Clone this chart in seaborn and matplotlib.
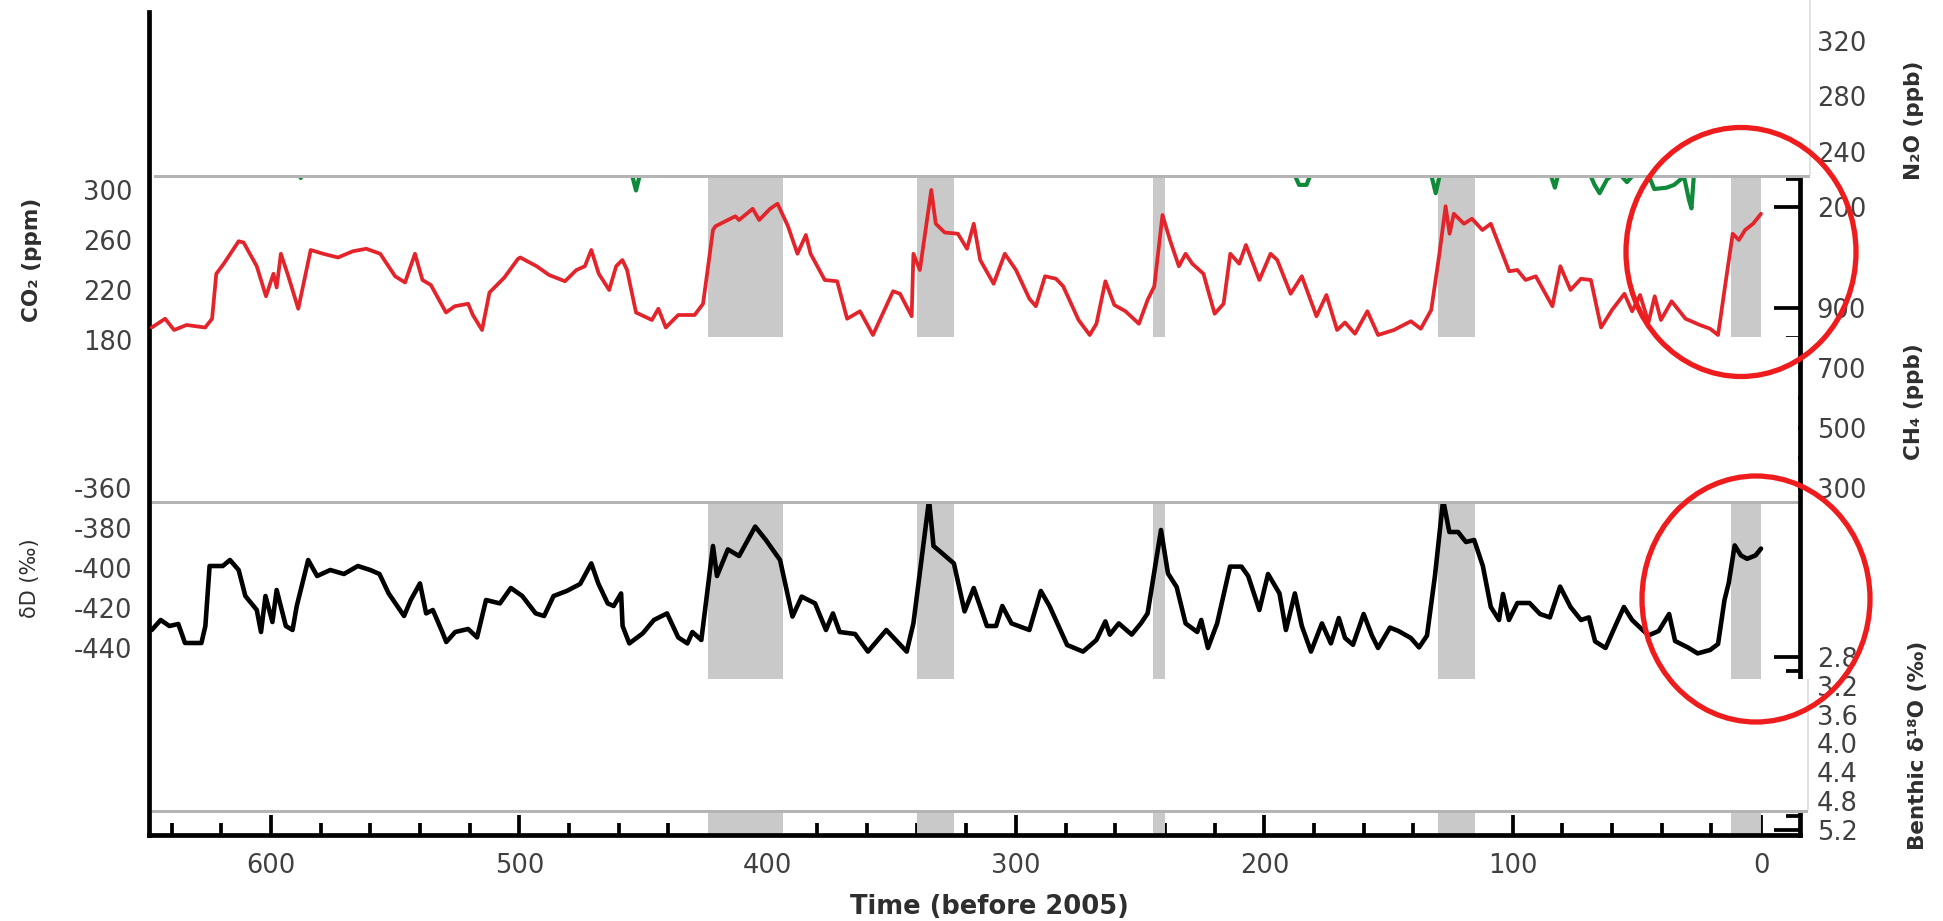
import matplotlib
matplotlib.use("Agg")
import matplotlib.pyplot as plt
import seaborn as sns
from matplotlib.patches import Rectangle, Ellipse

# ===== Data (ages in kyr before 2005) =====
co2_age = [648, 642.6, 639, 634, 626.5, 623.7, 622, 619, 613, 611, 605.7, 602, 599, 597.7, 596, 593,
           589, 584, 579, 573, 567, 561.6, 556, 550, 546, 542, 539, 535.6, 529.5, 526, 520.6, 518.7,
           515, 512, 506, 500.5, 499.6, 493, 488, 481.6, 477, 473.6, 471, 468, 463.8, 461, 458.5,
           456.6, 453, 446.6, 444, 441, 436, 429.4, 426, 422, 421, 413, 411.5, 406, 403.4, 399, 396,
           391.8, 388, 384.6, 382.7, 377, 372, 368, 362.8, 357.6, 349.5, 346.7, 342, 341.3, 338.7,
           334.1, 332.3, 328.7, 323.4, 319.7, 317, 314.4, 309, 304.5, 300, 294.6, 292, 288.3, 283.9,
           281, 274.8, 270.3, 267.6, 264, 260.4, 255.9, 250.5, 247, 244.3, 241, 238, 234.4, 231.7,
           229, 224.5, 222.7, 220, 216.4, 213.7, 210.1, 207.4, 202, 197.5, 194.8, 189.4, 184.9, 179,
           175, 170.7, 167.5, 163.5, 158.5, 154.2, 147.8, 141, 137, 132.8, 129.5, 127, 125.4, 123.7,
           119.6, 116.4, 112.2, 108.8, 104.7, 101.4, 98.1, 94.8, 90.7, 84, 80.8, 76.7, 72.5, 68.5,
           64.4, 60, 55, 51.9, 48.7, 45.3, 42.8, 40.3, 36, 30.4, 24.6, 20.5, 17.3, 14.7, 11.4, 8.9,
           6.4, 3.2, 0]
co2_ppm = [190, 197, 188, 192, 190, 197, 233, 241, 259, 258, 239, 215, 233, 222, 249, 231,
           205, 252, 249, 246, 251, 253, 249, 231, 226, 249, 228, 224, 202, 207, 209, 200,
           188, 218, 230, 245, 246, 239, 232, 227, 236, 239, 252, 233, 220, 239, 244,
           236, 202, 196, 205, 190, 200, 200, 209, 268, 271, 279, 276, 285, 276, 285, 289,
           271, 249, 264, 249, 228, 227, 197, 203, 184, 219, 217, 199, 249, 236,
           300, 273, 266, 265, 253, 273, 244, 225, 249, 236, 213, 207, 231, 229,
           223, 196, 184, 193, 227, 208, 203, 193, 212, 223, 280, 260, 239, 249,
           241, 233, 220, 201, 209, 249, 241, 256, 228, 249, 244, 217, 231, 199,
           216, 188, 194, 185, 203, 184, 188, 195, 189, 204, 249, 287, 265, 281,
           273, 277, 268, 273, 252, 235, 236, 228, 231, 207, 239, 220, 229, 228,
           190, 204, 217, 203, 216, 194, 215, 196, 211, 197, 192, 189, 184, 220, 265, 260,
           268, 273, 281]

dd_age = [648, 644.4, 640.9, 637.3, 634.6, 628, 626.4, 624.7, 619.4, 616.5, 613, 610.3, 605.7, 604,
          602.2, 599.4, 597.7, 594, 591.3, 589.6, 585, 581.4, 576.1, 570.6, 565, 560, 556.3, 552.6,
          546.4, 543.7, 540, 537.5, 534.8, 531, 529.4, 525.8, 520.6, 517, 513.4, 507.8, 503.4, 498.8,
          493.4, 490, 486.2, 480.9, 475.5, 471, 468.2, 464.4, 462, 459, 458.4, 455.7, 450.3, 445.8,
          440.5, 436, 432.3, 430.3, 426.7, 422, 420.4, 416, 411.5, 405, 400.7, 395, 390, 386.3, 380.9,
          376.5, 373.7, 371, 364.8, 359.6, 352.2, 344, 341.3, 335, 333.2, 330.6, 325, 320.7, 317,
          311.7, 308, 305.5, 301.8, 294.6, 290, 286.5, 279.4, 273, 267.6, 264, 262.2, 258.6, 253.4,
          249.7, 247, 241.6, 238.8, 235.3, 231.7, 227, 225.4, 222.7, 219, 213.8, 209.2, 206.5, 202,
          198.5, 193.9, 191.3, 187.7, 184.9, 181.2, 176.8, 173.2, 170, 167.5, 164.3, 160, 156.7,
          154.2, 149.4, 146, 141, 137.7, 134.5, 131.3, 128, 125.5, 122, 118.8, 115.5, 112, 108.8,
          105.5, 103.9, 101.5, 98.1, 93.2, 89, 85, 80.9, 76.7, 72.5, 69.3, 66.8, 62.6, 58.5, 55.2,
          51.9, 48.7, 45.3, 41.2, 37, 34.6, 29.5, 25.5, 20.5, 17.3, 14.7, 13, 10.6, 8.1, 5.6, 2.2, 0]
dd_permil = [-431, -426, -429, -428, -437.5, -437.5, -429, -399, -399, -396, -401, -414, -421, -432,
             -414, -427, -411, -429, -431, -419, -396, -404, -401, -403, -399, -401, -403, -412.7,
             -424, -416, -407.7, -422.7, -421, -432, -437, -432, -430.5, -434.7, -416, -417.7, -410, -414,
             -422.7, -424, -414, -411.5, -408, -397.7, -407.7, -417.7, -419, -412.7, -429, -437.7, -432.7, -426,
             -422.7, -434.7, -437.7, -432, -436, -389, -404, -390.7, -394, -379.3, -386, -396, -424.3, -414.3, -417.7,
             -431, -422.7, -432, -433, -441.8, -431, -441.8, -427.7, -366, -389, -391.7, -397.7, -421.7, -410,
             -429, -429, -419, -427.7, -431, -411.5, -419, -438.5, -441.8, -436, -426.7, -433.3, -427.7, -433.3,
             -427.7, -422.7, -381, -402.7, -409.5, -427.7, -432, -426, -440, -427.7, -399.3, -399.3, -404, -421,
             -403, -412.7, -431, -412.7, -429, -441.8, -427.7, -437.7, -425, -435, -438.4, -423, -433.7,
             -440, -429.8, -431.5, -435, -439.7, -433.8, -404, -366, -382, -382, -387, -386, -399, -419.5,
             -426, -413, -426, -417.5, -417.5, -423, -424.7, -409.3, -419.5, -426, -424.7, -436.7, -440, -428.5, -419.5,
             -426, -429.8, -433.7, -431.5, -423, -436.5, -439.7, -442.7, -441, -438, -416, -407.5, -388.7, -393.7, -395.4, -393.7, -390.3]

# only the dips of this trace show below the top cover
n2o_age = [640, 592, 588, 584, 460, 455, 453, 450, 300, 190, 186, 183, 180, 140, 133, 131, 129, 120,
           90, 85, 83, 81, 70, 67, 65, 62, 58, 54, 50, 45, 43, 38, 35, 31, 29, 28, 27, 20, 0]
n2o_ppb = [238, 236, 221, 236, 238, 226, 212, 234, 240, 232, 216, 216, 230, 236, 225, 210, 226, 240,
           236, 225, 214, 228, 228, 216, 210, 220, 226, 218, 226, 222, 213, 214, 216, 222, 205, 199, 224, 238, 240]

interglacials = [(424, 394), (340, 325), (245, 240), (130, 115), (12, 0)]

time_ticks = [600, 500, 400, 300, 200, 100, 0]
time_minor = list(range(640, -1, -20))
co2_ticks = [300, 260, 220, 180]
co2_minor = [280, 240, 200]
dd_ticks = [-360, -380, -400, -420, -440]
dd_minor = [-370, -390, -410, -430, -450]
n2o_ticks = [320, 280, 240, 200]
n2o_minor = [300, 260, 220]
ch4_ticks = [900, 700, 500, 300]
ch4_minor = [800, 600, 400]
benthic_ticks = [2.8, 3.2, 3.6, 4.0, 4.4, 4.8, 5.2]
benthic_minor = [3.0, 3.4, 3.8, 4.2, 4.6, 5.0]

sns.set_style("white")
plt.rcParams["font.family"] = ["DejaVu Sans"]
plt.rcParams["axes.unicode_minus"] = False

W, H = 1943, 921
fig = plt.figure(figsize=(W / 100, H / 100), dpi=100)
fig.patch.set_facecolor("white")


def fig_box(x0, y0, x1, y1):
    # pixel box (top-left origin) -> [left, bottom, width, height] in figure fraction
    return [x0 / W, 1 - y1 / H, (x1 - x0) / W, (y1 - y0) / H]


FRAME = fig_box(149, 12, 1800, 835)
LABEL_COLOR = "#404040"
TICK_FS = 18.5

# ===== Frame with interglacial shading =====
ax = fig.add_axes(FRAME)
ax.set_facecolor("white")
for start, end in interglacials:
    ax.axvspan(start, end, color="#c9c9c9", lw=0)
ax.spines["top"].set_visible(False)
for side in ["left", "bottom", "right"]:
    ax.spines[side].set_linewidth(3.4)
    ax.spines[side].set_color("black")
ax.tick_params(axis="y", left=False, labelleft=False, right=False)
ax.set_ylim(0, 1)


def layer(side):
    a = fig.add_axes(FRAME, sharex=ax)
    a.patch.set_visible(False)
    for s in a.spines.values():
        s.set_visible(False)
    if side == "right":
        a.yaxis.tick_right()
    return a


def style_layer(a, ylim, ticks, minor):
    a.set_xlabel("")
    a.set_ylabel("")
    a.tick_params(axis="x", which="both", bottom=False, top=False, labelbottom=False)
    a.set_yticks(ticks)
    a.set_yticks(minor, minor=True)
    a.tick_params(axis="y", which="major", direction="in", length=19, width=2.7, color="black",
                  labelsize=TICK_FS, labelcolor=LABEL_COLOR, pad=12)
    a.tick_params(axis="y", which="minor", direction="in", length=10, width=2.7, color="black")
    a.set_ylim(*ylim)


# ===== Data layers =====
ax_n2o = layer("right")
sns.lineplot(x=n2o_age, y=n2o_ppb, ax=ax_n2o, color="#0f8a3a", lw=3, sort=False, estimator=None)
style_layer(ax_n2o, (-254, 341), n2o_ticks, n2o_minor)

ax_ch4 = layer("right")
style_layer(ax_ch4, (-856.7, 1886.7), ch4_ticks, ch4_minor)

ax_bth = layer("right")
style_layer(ax_bth, (5.27, -6.15), benthic_ticks, benthic_minor)
ax_bth.set_yticklabels([f"{v:.1f}" for v in benthic_ticks])

ax_co2 = layer("left")
sns.lineplot(x=co2_age, y=co2_ppm, ax=ax_co2, color="#e3242b", lw=2.7, sort=False, estimator=None)
style_layer(ax_co2, (-216, 442.4), co2_ticks, co2_minor)

ax_dd = layer("left")
sns.lineplot(x=dd_age, y=dd_permil, ax=ax_dd, color="black", lw=3.3, sort=False, estimator=None)
style_layer(ax_dd, (-533.5, -122), dd_ticks, dd_minor)

# time axis set last, the shared x ticker is reset by the line layers
ax.set_xlim(649.1, -15.7)
ax.set_xticks(time_ticks)
ax.set_xticks(time_minor, minor=True)
ax.tick_params(axis="x", which="major", direction="in", length=14.5, width=2.7,
               pad=13, labelsize=TICK_FS, labelcolor=LABEL_COLOR, color="black", bottom=True)
ax.tick_params(axis="x", which="minor", direction="in", length=8.5, width=2.7, color="black", bottom=True)


# ===== White covers with their faint shadows =====
def cover(x0, y0, x1, y1, color="white", z=10):
    fig.add_artist(Rectangle((x0 / W, 1 - y1 / H), (x1 - x0) / W, (y1 - y0) / H,
                             transform=fig.transFigure, facecolor=color, edgecolor="none", zorder=z))


cover(154, 0, 1810, 175)
cover(154, 175, 1810, 178, color="#b4b4b4", z=9)
cover(1809, 0, 1811, 175, color="#e2e2e2", z=11)
cover(152, 337, 1798, 501)
cover(152, 501, 1798, 504, color="#b4b4b4", z=9)
cover(152, 679, 1808, 810)
cover(152, 810, 1808, 813, color="#b4b4b4", z=9)
cover(1807, 679, 1809, 810, color="#e2e2e2", z=11)

# ===== Axis titles =====
title_kw = dict(ha="center", va="center", color="#2e2e2e", zorder=30)
fig.text(32 / W, 1 - 260 / H, "CO₂ (ppm)", rotation=90, fontsize=15.5, fontweight="bold", **title_kw)
fig.text(30 / W, 1 - 578 / H, "δD (‰)", rotation=90, fontsize=15, **title_kw)
fig.text(1914 / W, 1 - 120 / H, "N₂O (ppb)", rotation=90, fontsize=15.5, fontweight="bold", **title_kw)
fig.text(1914 / W, 1 - 402 / H, "CH₄ (ppb)", rotation=90, fontsize=15.5, fontweight="bold", **title_kw)
fig.text(1918 / W, 1 - 745 / H, "Benthic δ¹⁸O (‰)", rotation=90, fontsize=15.5, fontweight="bold", **title_kw)
fig.text(989 / W, 1 - 907 / H, "Time (before 2005)", fontsize=18.5, fontweight="bold", **title_kw)

# ===== Red highlight ellipses =====
for cx, cy, ew, eh in [(1741, 252, 230, 249), (1756, 599, 228, 246)]:
    fig.add_artist(Ellipse((cx / W, 1 - cy / H), ew / W, eh / H, transform=fig.transFigure,
                           fill=False, edgecolor="#ee1c1c", lw=3.8, zorder=20))

fig.savefig("out.png", dpi=100)
plt.close()
